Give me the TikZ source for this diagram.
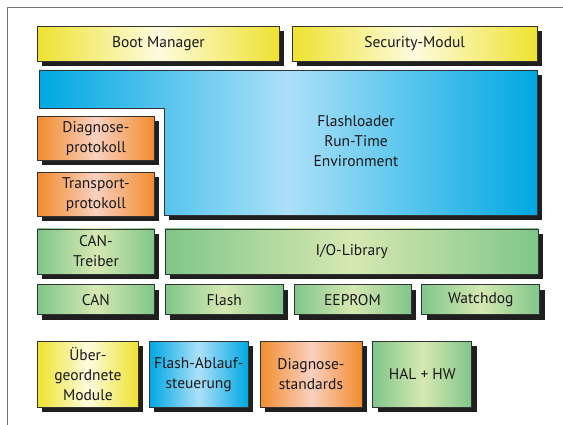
\documentclass[tikz,border=0pt]{standalone}
\usepackage{fontspec}
\setmainfont{PT Sans}
\usetikzlibrary{positioning, shadows}
\usepackage{xcolor}

\definecolor{gelb}{RGB}{238,226,48}
\definecolor{gelbhell}{RGB}{253,251,222}
\definecolor{orangeA}{RGB}{242,140,45}
\definecolor{orangehell}{RGB}{249,208,192}
\definecolor{gruen}{RGB}{128,198,138}
\definecolor{gruenhell}{RGB}{214,232,178}
\definecolor{blau}{RGB}{0,168,226}
\definecolor{blauhell}{RGB}{172,224,248}

\begin{document}
\begin{tikzpicture}[
        x=1pt, y=-1pt,
        every node/.style={font=\fontsize{15.5}{20}\selectfont, text=black!90, align=center},
        box/.style={rectangle, draw=black!80, line width=0.8pt, inner sep=0pt,
            drop shadow={shadow xshift=5pt, shadow yshift=-5pt, fill=black!88, opacity=1}},
        gelbbox/.style={box, left color=gelb, right color=gelb, middle color=gelbhell},
        orangebox/.style={box, left color=orangeA, right color=orangeA, middle color=orangehell},
        gruenbox/.style={box, left color=gruen, right color=gruen, middle color=gruenhell},
        blaubox/.style={box, left color=blau, right color=blau, middle color=blauhell},
        node distance=10pt
    ]
        \useasboundingbox (0,0) rectangle (563,425);
        % Rahmen
        \draw[black!55, line width=1pt] (7,425) -- (7,8) -- (563,8);

        % Obere Reihe
        \node (boot) [gelbbox, anchor=north west, minimum width=242pt, minimum height=35pt] at (37,26) {Boot Manager};
        \node (security) [gelbbox, right=12pt of boot, minimum width=245pt, minimum height=35pt] {Security-Modul};

        % Flashloader (L-Form)
        \fill[black!88] (169,75) rectangle (542,220);
        \shade[left color=blau, right color=blau, middle color=blauhell, draw=black!80, line width=0.8pt]
            (39,70) -- (537,70) -- (537,215) -- (164,215) -- (164,108) -- (39,108) -- cycle;
        \node (flr) at (356,141) {Flashloader\\Run-Time\\Environment};

        % Protokolle
        \node (diagprot) [orangebox, anchor=north west, minimum width=117pt, minimum height=44pt] at (37,116) {Diagnose-\\protokoll};
        \node (transprot) [orangebox, below=11pt of diagprot, minimum width=117pt, minimum height=44pt] {Transport-\\protokoll};

        % Treiber
        \node (cantreiber) [gruenbox, below=12pt of transprot, minimum width=117pt, minimum height=45pt] {CAN-\\Treiber};
        \node (iolib) [gruenbox, right=10pt of cantreiber, minimum width=373pt, minimum height=45pt] {I/O-Library};

        \node (can) [gruenbox, below=10pt of cantreiber, minimum width=117pt, minimum height=30pt] {CAN};
        \node (flash) [gruenbox, right=10pt of can, minimum width=118pt, minimum height=30pt] {Flash};
        \node (eeprom) [gruenbox, right=10pt of flash, minimum width=117pt, minimum height=30pt] {EEPROM};
        \node (watchdog) [gruenbox, right=10pt of eeprom, minimum width=118pt, minimum height=30pt] {Watchdog};

        % Legende
        \node (ueber) [gelbbox, anchor=north west, minimum width=101pt, minimum height=66pt] at (37,341) {Über-\\geordnete\\Module};
        \node (ablauf) [blaubox, right=10pt of ueber, minimum width=99pt, minimum height=66pt] {Flash-Ablauf-\\steuerung};
        \node (diagstd) [orangebox, right=11pt of ablauf, minimum width=102pt, minimum height=66pt] {Diagnose-\\standards};
        \node (hal) [gruenbox, right=10pt of diagstd, minimum width=99pt, minimum height=66pt] {HAL + HW};
    \end{tikzpicture}
\end{document}
